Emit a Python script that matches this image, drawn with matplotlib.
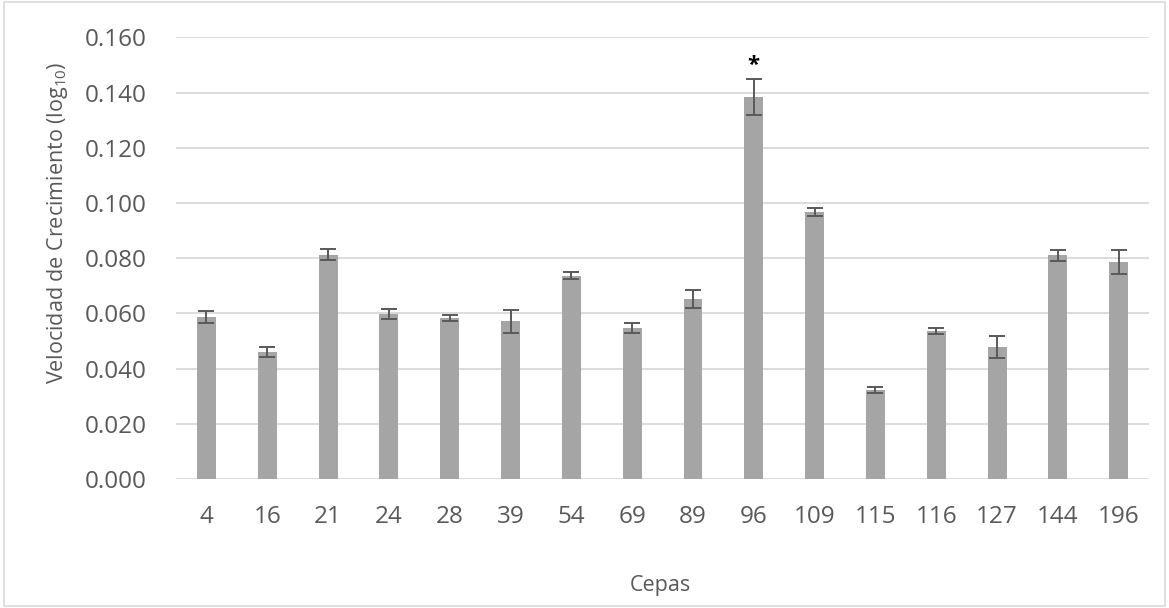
import matplotlib
matplotlib.use("Agg")
import matplotlib.pyplot as plt
import numpy as np
from matplotlib.patches import Rectangle

plt.rcParams.update({
    "font.family": ["Open Sans", "DejaVu Sans"],
    "mathtext.fontset": "custom",
    "mathtext.rm": "Open Sans",
    "mathtext.it": "Open Sans",
})

cepas = ["4", "16", "21", "24", "28", "39", "54", "69", "89", "96",
         "109", "115", "116", "127", "144", "196"]
velocidad = [0.0587, 0.0462, 0.0812, 0.0598, 0.0584, 0.0572, 0.0737, 0.0547,
             0.0652, 0.1383, 0.0967, 0.0322, 0.0537, 0.0478, 0.0810, 0.0786]
error = [0.0022, 0.0018, 0.0020, 0.0017, 0.0010, 0.0041, 0.0012, 0.0018,
         0.0034, 0.0065, 0.0015, 0.0011, 0.0011, 0.0040, 0.0019, 0.0043]
significativo = ["96"]

W, H = 1169, 608
fig = plt.figure(figsize=(W / 100, H / 100), dpi=100)
ax = fig.add_axes([0.1506, 0.212, 0.8324, 0.7265])

x = np.arange(len(cepas))
ax.bar(x, velocidad, width=0.31, color="#A5A5A5", zorder=2)
ax.errorbar(x, velocidad, yerr=error, fmt="none", ecolor="#595959",
            elinewidth=1.4, capsize=5.5, capthick=1.4, zorder=3)

for i, c in enumerate(cepas):
    if c in significativo:
        ax.text(x[i], velocidad[i] + error[i] + 0.0012, "*", ha="center",
                va="bottom", fontsize=16, fontweight="bold", color="black")

ax.set_xlim(-0.5, len(cepas) - 0.5)
ax.set_ylim(0, 0.16)
yt = np.arange(0, 0.161, 0.02)
ax.set_yticks(yt)
ax.set_yticklabels([f"{v:.3f}" for v in yt])
ax.set_xticks(x)
ax.set_xticklabels(cepas)
ax.tick_params(axis="both", length=0, labelsize=17.5, colors="#595959")
ax.tick_params(axis="x", pad=19)
ax.tick_params(axis="y", pad=21)
ax.grid(axis="y", color="#D9D9D9", linewidth=1.3, zorder=0)
ax.set_axisbelow(True)
for s in ax.spines.values():
    s.set_visible(False)

# axis titles placed where Excel put them
fig.text(660 / W, 1 - 585 / H, "Cepas", fontsize=15.5, color="#595959",
         ha="center", va="center")
fig.text(58 / W, 1 - 223 / H, "Velocidad de Crecimiento (log$_{10}$)",
         fontsize=15.5, color="#595959", rotation=90, ha="center", va="center")

fig.patches.append(Rectangle((0.003, 0.003), 0.994, 0.994, transform=fig.transFigure,
                             fill=False, edgecolor="#D9D9D9", linewidth=1.2))

fig.savefig("out.png", dpi=100)
